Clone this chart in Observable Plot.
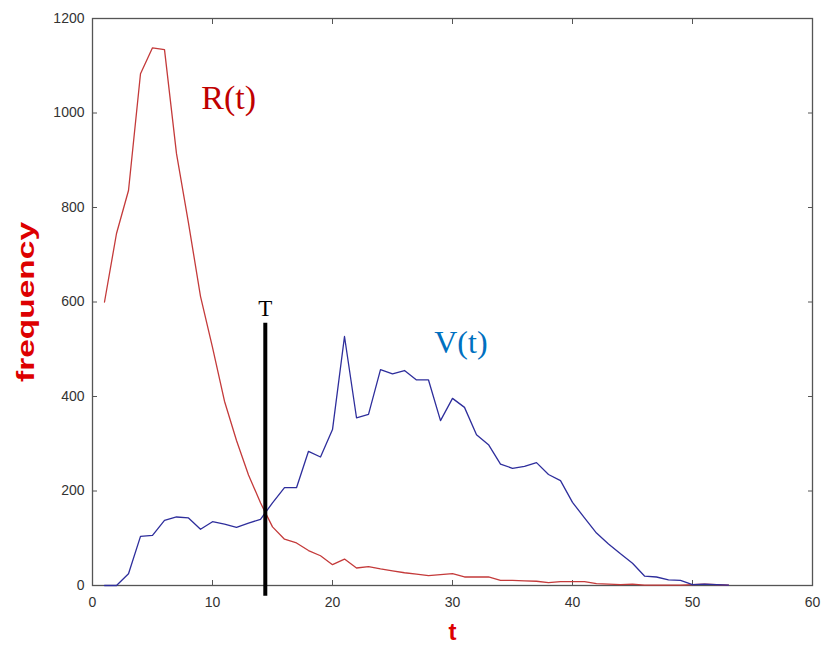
<!DOCTYPE html>
<html><head><meta charset="utf-8">
<script src="https://cdn.jsdelivr.net/npm/d3@7"></script>
<script src="https://cdn.jsdelivr.net/npm/@observablehq/plot@0.6"></script>
<style>body{margin:0;background:#fff;} #chart svg{display:block;}</style>
</head><body><div id="chart"></div>
<script>
const tValues = d3.range(1, 54);
const rValues = [600,745,836,1083,1138,1134,914,767,612,504,390,307,234,175,124,98,90,74,63,44,56,37,40,35,31,27,24,21,23,25,18,18,18,11,11,10,9,6,8,8,8,4,3,2,3,1,1,1,1,2,3,2,1];
const vValues = [0,0,25,104,106,138,145,143,119,135,130,123,132,140,175,207,207,284,272,330,527,355,362,457,448,455,435,435,349,396,377,319,298,257,248,252,260,235,222,176,143,111,88,67,47,20,18,12,11,2,3,2,1];
const xTicks = [0,10,20,30,40,50,60];
const yTicks = [0,200,400,600,800,1000,1200];
const thresholdT = 14.4;
const thresholdSpan = [-23, 555];
const seriesLabels = [
  {text: "R(t)", x: 11.35, y: 1009, color: "#c00000", size: 34},
  {text: "V(t)", x: 30.7, y: 493, color: "#0070c0", size: 32},
  {text: "T", x: 14.4, y: 571, color: "#000000", size: 23}
];
const yLabel = "frequency";
const xLabel = "t";

const rData = tValues.map((t, i) => ({t, v: rValues[i]}));
const vData = tValues.map((t, i) => ({t, v: vValues[i]}));

const plot = Plot.plot({
  width: 822, height: 645,
  marginLeft: 92, marginRight: 10, marginTop: 18, marginBottom: 60,
  style: {fontFamily: "'Liberation Sans', Arial, sans-serif", fontSize: "14px", color: "#333", background: "#fff", overflow: "visible"},
  x: {domain: [0, 60]},
  y: {domain: [0, 1200]},
  marks: [
    Plot.axisX({ticks: xTicks, tickSize: -5, tickPadding: 17, tickFormat: d3.format("d"), label: null, stroke: "#555", fill: "#333"}),
    Plot.axisX({ticks: xTicks, anchor: "top", tickSize: -5, tickFormat: () => "", label: null, stroke: "#555"}),
    Plot.axisY({ticks: yTicks, tickSize: -5, tickPadding: 13, tickFormat: d3.format("d"), label: null, stroke: "#555", fill: "#333"}),
    Plot.axisY({ticks: yTicks, anchor: "right", tickSize: -5, tickFormat: () => "", label: null, stroke: "#555"}),
    Plot.frame({stroke: "#555", strokeWidth: 1.3}),
    Plot.line(rData, {x: "t", y: "v", stroke: "#c43a3a", strokeWidth: 1.3}),
    Plot.line(vData, {x: "t", y: "v", stroke: "#2e2e9c", strokeWidth: 1.3}),
    Plot.ruleX([thresholdT], {y1: thresholdSpan[0], y2: thresholdSpan[1], stroke: "#000", strokeWidth: 4}),
    ...seriesLabels.map(l => Plot.text([l], {x: "x", y: "y", text: "text", fill: l.color, fontSize: l.size, lineAnchor: "bottom", textAnchor: "middle", fontFamily: "'Liberation Serif', 'Times New Roman', serif"})),
    Plot.text([yLabel], {text: d => d, frameAnchor: "left", dx: -66, dy: 0, rotate: -90, fill: "#dd0000", fontSize: 24, fontWeight: "bold", textAnchor: "middle", lineAnchor: "middle"}),
    Plot.text([xLabel], {text: d => d, frameAnchor: "bottom", dy: 47, fill: "#dd0000", fontSize: 24, fontWeight: "bold", textAnchor: "middle", lineAnchor: "middle"})
  ]
});
document.getElementById("chart").appendChild(plot);
// stretch the y-axis label like the reference
d3.select(plot).selectAll("text").filter(function(){ return this.textContent === yLabel; })
  .attr("textLength", 160).attr("lengthAdjust", "spacingAndGlyphs");
</script>
</body></html>
